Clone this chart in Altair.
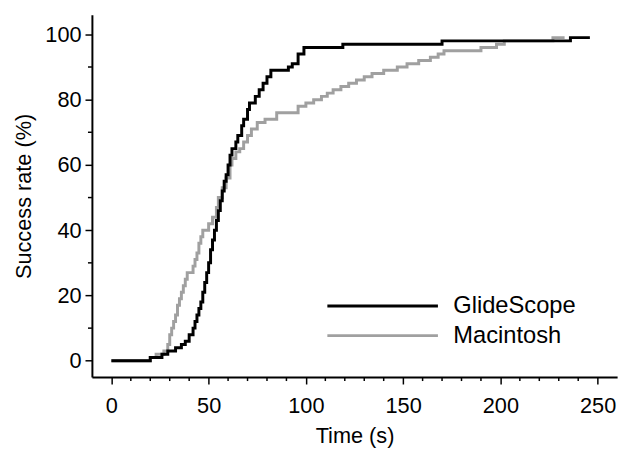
import altair as alt
import pandas as pd

# GlideScope: step-after curve (time s, success %)
glide_t = [0, 20, 26, 29, 33, 36, 38, 40, 42, 43, 44, 45, 46, 47, 48, 49, 50, 51, 52, 53,
           54, 55, 56, 57, 58, 59, 60, 61, 62, 64, 65, 67, 68, 70, 71, 74, 76, 78, 80, 82,
           91, 93, 96, 99, 119, 170, 236, 246]
glide_v = [0, 1, 2, 3, 4, 5, 6, 8, 10, 12, 14, 16, 18, 21, 24, 27, 30, 34, 37, 40,
           43, 46, 49, 52, 55, 57, 60, 63, 65, 67, 69, 72, 74, 77, 79, 81, 83, 85, 87, 89,
           90, 91, 94, 96, 97, 98, 99, 99]

# Macintosh
mac_t = [0, 20, 23, 27, 29, 30, 31, 32, 33, 34, 35, 36, 37, 38, 39, 42, 43, 44, 45, 46,
         47, 50, 52, 54, 55, 57, 59, 61, 62, 64, 66, 68, 70, 72, 75, 79, 85, 96, 100, 104,
         108, 111, 114, 118, 122, 126, 130, 134, 140, 147, 152, 158, 164, 168, 171, 190, 198,
         202, 227, 233]
mac_v = [0, 1, 2, 3, 5, 8, 10, 12, 14, 17, 19, 21, 23, 25, 27, 29, 31, 33, 36, 38,
         40, 42, 44, 47, 50, 53, 56, 60, 62, 64, 65, 67, 69, 71, 73, 74, 76, 78, 79, 80,
         81, 82, 83, 84, 85, 86, 87, 88, 89, 90, 91, 92, 93, 94, 95, 96, 97,
         98, 99, 99]

series = ["GlideScope", "Macintosh"]
colors = ["#000000", "#a0a0a0"]
x_major = [0, 50, 100, 150, 200, 250]
x_minor = [v for v in range(0, 251, 10) if v % 50 != 0]
y_major = [0, 20, 40, 60, 80, 100]
y_minor = [10, 30, 50, 70, 90]

rows = [{"t": t, "v": v, "device": "Macintosh"} for t, v in zip(mac_t, mac_v)]
rows += [{"t": t, "v": v, "device": "GlideScope"} for t, v in zip(glide_t, glide_v)]
df = pd.DataFrame(rows)

FONT = "Liberation Sans"
H = 367
xs = alt.Scale(domain=[-10, 260], nice=False, zero=False)
ys = alt.Scale(domain=[-5, 106], nice=False, zero=False)

lines = alt.Chart(df).mark_line(interpolate="step-after", strokeWidth=3).encode(
    x=alt.X("t:Q", scale=xs,
            axis=alt.Axis(values=x_major, title="Time (s)", grid=False, tickSize=7,
                          labelPadding=12, titlePadding=9)),
    y=alt.Y("v:Q", scale=ys,
            axis=alt.Axis(values=y_major, title="Success rate (%)", grid=False, tickSize=7,
                          labelPadding=4, titlePadding=10)),
    color=alt.Color("device:N",
                    scale=alt.Scale(domain=series, range=colors),
                    legend=alt.Legend(title=None, orient="none", legendX=237, legendY=280,
                                      symbolType="stroke", symbolSize=12544,
                                      symbolStrokeWidth=3, clipHeight=30,
                                      labelFontSize=24, labelFont=FONT, labelColor="black",
                                      labelOffset=14, padding=0, rowPadding=0)),
)

xminor = alt.Chart(pd.DataFrame({"t": x_minor})).mark_rule(color="black", strokeWidth=1.5).encode(
    x=alt.X("t:Q", scale=xs),
    y=alt.value(H), y2=alt.value(H + 4),
)
yminor = alt.Chart(pd.DataFrame({"v": y_minor})).mark_rule(color="black", strokeWidth=1.5).encode(
    y=alt.Y("v:Q", scale=ys),
    x=alt.value(0), x2=alt.value(-4),
)

chart = alt.layer(lines, xminor, yminor).properties(
    width=532, height=H,
    autosize=alt.AutoSizeParams(type="none"),
    padding={"left": 85, "top": 4, "right": 9, "bottom": 72},
).configure_view(stroke=None).configure_axis(
    domainColor="black", domainWidth=2, tickColor="black", tickWidth=1.5,
    labelFont=FONT, labelFontSize=22, labelColor="black",
    titleFont=FONT, titleFontSize=22, titleFontWeight="normal", titleColor="black",
)

chart.save("out.html", embed_options={"renderer": "svg", "actions": False})
